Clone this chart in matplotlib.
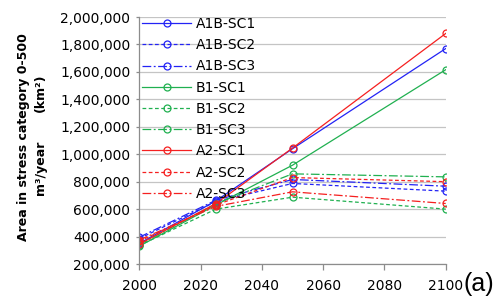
import matplotlib.pyplot as plt
from matplotlib.ticker import FuncFormatter

plt.rcParams["font.family"] = ["DejaVu Sans"]

# Data
years = [2000, 2025, 2050, 2100]

series_names = [
	"A1B-SC1", "A1B-SC2", "A1B-SC3",
	"B1-SC1", "B1-SC2", "B1-SC3",
	"A2-SC1", "A2-SC2", "A2-SC3",
]

a1b_sc1 = [350000, 660000, 1040000, 1770000]
a1b_sc2 = [385000, 655000, 787000, 731000]
a1b_sc3 = [395000, 665000, 816000, 767000]
b1_sc1 = [330000, 630000, 920000, 1616000]
b1_sc2 = [335000, 600000, 687000, 600000]
b1_sc3 = [340000, 640000, 857000, 835000]
a2_sc1 = [345000, 640000, 1045000, 1880000]
a2_sc2 = [365000, 630000, 830000, 800000]
a2_sc3 = [375000, 620000, 726000, 641000]

series_values = [
	a1b_sc1, a1b_sc2, a1b_sc3,
	b1_sc1, b1_sc2, b1_sc3,
	a2_sc1, a2_sc2, a2_sc3,
]

x_ticks = [2000, 2020, 2040, 2060, 2080, 2100]
y_ticks = [200000, 400000, 600000, 800000, 1000000, 1200000, 1400000, 1600000, 1800000, 2000000]

# Styles
blue, green, red = "#2323F5", "#20B050", "#F52020"
colors = [blue] * 3 + [green] * 3 + [red] * 3
solid = "-"
dashed = (0, (3, 2))
dashdot = (0, (7, 2, 1.5, 2))
styles = [solid, dashed, dashdot] * 3

fig = plt.figure(figsize=(4.98, 3.0), dpi=100)
ax = fig.add_axes([0.2797, 0.12, 0.6153, 0.8233])

for name, values, color, ls in zip(series_names, series_values, colors, styles):
	ax.plot(
		years, values,
		color=color, linestyle=ls, linewidth=0.9,
		marker="o", markersize=5, markerfacecolor="none",
		markeredgewidth=0.9, label=name,
	)

ax.set_xlim(2000, 2100)
ax.set_ylim(200000, 2000000)
ax.set_xticks(x_ticks)
ax.set_yticks(y_ticks)
ax.yaxis.set_major_formatter(FuncFormatter(lambda v, _: f"{int(v):,}"))

ax.grid(axis="y", color="#C4C4C4", linewidth=0.9)
ax.set_axisbelow(True)
for side in ["top", "right"]:
	ax.spines[side].set_visible(False)
for side in ["left", "bottom"]:
	ax.spines[side].set_color("#8C8C8C")
	ax.spines[side].set_linewidth(0.9)

ax.tick_params(axis="x", length=4, width=0.9, color="#8C8C8C", pad=7, labelsize=10)
ax.tick_params(axis="y", length=2.5, width=0.9, color="#8C8C8C", pad=4, labelsize=10)

ax.legend(
	loc="upper left", bbox_to_anchor=(0.01, 1.0), frameon=False,
	fontsize=10, handlelength=3.5, handletextpad=0.35,
	labelspacing=0.52, borderpad=0, borderaxespad=0,
)

# y axis title (wrapped over two lines in the original)
fig.text(24 / 498, 1 - 137 / 300, "Area in stress category 0-500",
	rotation=90, ha="center", va="center", fontsize=9, fontweight="bold")
fig.text(40 / 498, 1 - 168 / 300, "m³/year",
	rotation=90, ha="center", va="center", fontsize=9, fontweight="bold")
fig.text(40 / 498, 1 - 93 / 300, "(km²)",
	rotation=90, ha="center", va="center", fontsize=9, fontweight="bold")

fig.text(463 / 498, 4 / 300, "(a)", fontsize=18, family="Liberation Sans",
	ha="left", va="bottom")

fig.savefig("out.png", dpi=100)
